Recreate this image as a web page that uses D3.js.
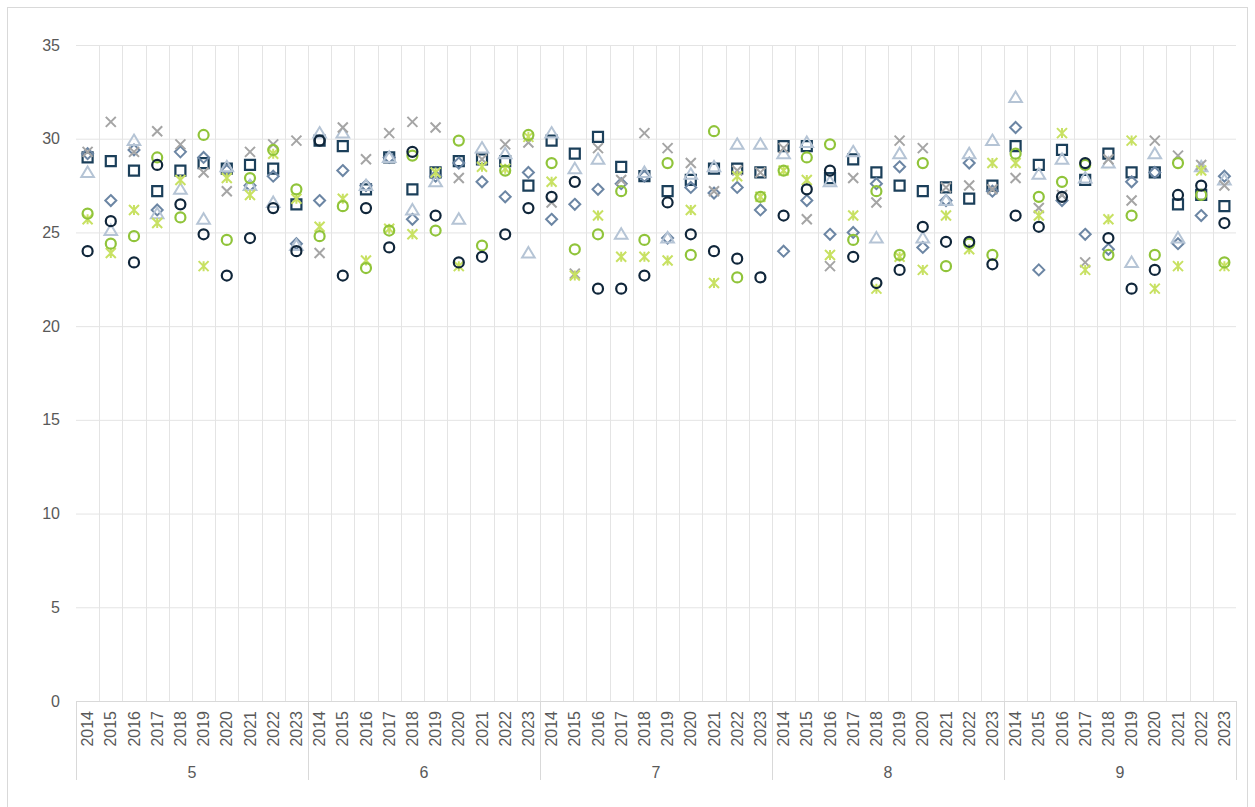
<!DOCTYPE html>
<html>
<head>
<meta charset="utf-8">
<script src="https://cdn.jsdelivr.net/npm/d3@7"></script>
<style>
  body { margin: 0; background: #fff; }
  text { font-family: "Liberation Sans", Arial, sans-serif; fill: #595959; }
</style>
</head>
<body>
<svg id="chart"></svg>
<script>
var w = 1255;
var h = 807;

// categories
var groups = ["5", "6", "7", "8", "9"];
var years = ["2014", "2015", "2016", "2017", "2018", "2019", "2020", "2021", "2022", "2023"];
var yTicks = [0, 5, 10, 15, 20, 25, 30, 35];

// series values, 50 each (group 5..9 x 2014..2023)
var darkCircle = [24.0, 25.6, 23.4, 28.6, 26.5, 24.9, 22.7, 24.7, 26.3, 24.0,
                  29.9, 22.7, 26.3, 24.2, 29.3, 25.9, 23.4, 23.7, 24.9, 26.3,
                  26.9, 27.7, 22.0, 22.0, 22.7, 26.6, 24.9, 24.0, 23.6, 22.6,
                  25.9, 27.3, 28.3, 23.7, 22.3, 23.0, 25.3, 24.5, 24.5, 23.3,
                  25.9, 25.3, 26.9, 28.7, 24.7, 22.0, 23.0, 27.0, 27.5, 25.5];
var square     = [29.0, 28.8, 28.3, 27.2, 28.3, 28.7, 28.4, 28.6, 28.4, 26.5,
                  29.9, 29.6, 27.3, 29.0, 27.3, 28.2, 28.8, 28.9, 28.8, 27.5,
                  29.9, 29.2, 30.1, 28.5, 28.0, 27.2, 27.8, 28.4, 28.4, 28.2,
                  29.6, 29.6, 27.9, 28.9, 28.2, 27.5, 27.2, 27.4, 26.8, 27.5,
                  29.6, 28.6, 29.4, 27.8, 29.2, 28.2, 28.2, 26.5, 27.0, 26.4];
var diamond    = [29.2, 26.7, 29.4, 26.2, 29.3, 29.0, 28.3, 27.5, 28.0, 24.4,
                  26.7, 28.3, 27.5, 29.0, 25.7, 28.0, 28.7, 27.7, 26.9, 28.2,
                  25.7, 26.5, 27.3, 27.6, 28.0, 24.7, 27.4, 27.1, 27.4, 26.2,
                  24.0, 26.7, 24.9, 25.0, 27.6, 28.5, 24.2, 26.7, 28.7, 27.2,
                  30.6, 23.0, 26.7, 24.9, 24.1, 27.7, 28.2, 24.4, 25.9, 28.0];
var triangle   = [28.2, 25.1, 29.9, 26.0, 27.3, 25.7, 28.5, 27.5, 26.6, 24.3,
                  30.3, 30.3, 27.5, 29.0, 26.2, 27.7, 25.7, 29.5, 29.2, 23.9,
                  30.3, 28.4, 28.9, 24.9, 28.2, 24.7, 28.1, 28.5, 29.7, 29.7,
                  29.2, 29.8, 27.7, 29.3, 24.7, 29.2, 24.7, 26.7, 29.2, 29.9,
                  32.2, 28.1, 28.9, 27.9, 28.7, 23.4, 29.2, 24.7, 28.5, 27.8];
var cross      = [29.3, 30.9, 29.3, 30.4, 29.7, 28.2, 27.2, 29.3, 29.7, 29.9,
                  23.9, 30.6, 28.9, 30.3, 30.9, 30.6, 27.9, 28.9, 29.7, 29.8,
                  26.6, 22.8, 29.5, 27.8, 30.3, 29.5, 28.7, 27.2, 28.3, 28.2,
                  29.5, 25.7, 23.2, 27.9, 26.6, 29.9, 29.5, 27.4, 27.5, 27.3,
                  27.9, 26.3, 27.0, 23.4, 28.9, 26.7, 29.9, 29.1, 28.6, 27.5];
var greenCircle = [26.0, 24.4, 24.8, 29.0, 25.8, 30.2, 24.6, 27.9, 29.4, 27.3,
                   24.8, 26.4, 23.1, 25.1, 29.1, 25.1, 29.9, 24.3, 28.3, 30.2,
                   28.7, 24.1, 24.9, 27.2, 24.6, 28.7, 23.8, 30.4, 22.6, 26.9,
                   28.3, 29.0, 29.7, 24.6, 27.2, 23.8, 28.7, 23.2, 24.4, 23.8,
                   29.2, 26.9, 27.7, 28.6, 23.8, 25.9, 23.8, 28.7, 27.0, 23.4];
var asterisk   = [25.7, 23.9, 26.2, 25.5, 27.8, 23.2, 27.9, 27.0, 29.2, 26.8,
                  25.3, 26.8, 23.5, 25.2, 24.9, 28.2, 23.2, 28.5, 28.4, 30.1,
                  27.7, 22.7, 25.9, 23.7, 23.7, 23.5, 26.2, 22.3, 28.0, 26.9,
                  28.3, 27.8, 23.8, 25.9, 22.0, 23.7, 23.0, 25.9, 24.1, 28.7,
                  28.7, 25.9, 30.3, 23.0, 25.7, 29.9, 22.0, 23.2, 28.3, 23.2];

var margin = {left: 76, right: 19, top: 45, bottom: 106};
var x0 = margin.left, x1 = w - margin.right;
var yTop = margin.top, yBot = h - margin.bottom;

var cats = [];
groups.forEach(function(g) {
    years.forEach(function(y) { cats.push(g + "|" + y); });
});

var x = d3.scaleBand().domain(cats).range([x0, x1]).padding(0);
var xg = d3.scaleBand().domain(groups).range([x0, x1]).padding(0);
var y = d3.scaleLinear().domain([0, 35]).range([yBot, yTop]);

var svg = d3.select("#chart").attr("width", w).attr("height", h);

// chart border
svg.append("rect")
    .attr("x", 7.5).attr("y", 7.5)
    .attr("width", w - 15).attr("height", h + 10)
    .attr("fill", "none").attr("stroke", "#d9d9d9");

var grid = "#e4e4e4";

// horizontal gridlines + y labels
svg.append("g")
    .attr("transform", "translate(" + x0 + ",0)")
    .call(d3.axisLeft(y).tickValues(yTicks).tickSize(-(x1 - x0)).tickPadding(16))
    .call(function(g) {
        g.select(".domain").remove();
        g.selectAll(".tick line").attr("stroke", grid);
        g.selectAll(".tick text").attr("font-size", 16).attr("fill", "#595959")
            .style("font-family", "'Liberation Sans', Arial, sans-serif");
    });

// vertical gridlines at category borders
svg.append("g").selectAll("line")
    .data(cats.slice(1))
    .join("line")
    .attr("x1", function(d) { return Math.round(x(d)) + 0.5; })
    .attr("x2", function(d) { return Math.round(x(d)) + 0.5; })
    .attr("y1", yTop).attr("y2", yBot)
    .attr("stroke", grid);

// x axis line
svg.append("line")
    .attr("x1", x0).attr("x2", x1)
    .attr("y1", yBot + 0.5).attr("y2", yBot + 0.5)
    .attr("stroke", "#d9d9d9");

// group separators below axis
svg.append("g").selectAll("line")
    .data(groups.concat(["end"]))
    .join("line")
    .attr("x1", function(d) { return Math.round(d == "end" ? x1 : xg(d)) + 0.5; })
    .attr("x2", function(d) { return Math.round(d == "end" ? x1 : xg(d)) + 0.5; })
    .attr("y1", yBot).attr("y2", yBot + 79)
    .attr("stroke", "#d9d9d9");

// year labels
svg.append("g").selectAll("text")
    .data(cats)
    .join("text")
    .attr("transform", function(d) {
        return "translate(" + (x(d) + x.bandwidth() / 2) + "," + (yBot + 10) + ")rotate(-90)";
    })
    .attr("text-anchor", "end")
    .attr("dy", "0.35em")
    .attr("font-size", 16)
    .text(function(d) { return d.split("|")[1]; });

// group labels
svg.append("g").selectAll("text")
    .data(groups)
    .join("text")
    .attr("x", function(d) { return xg(d) + xg.bandwidth() / 2; })
    .attr("y", yBot + 77)
    .attr("text-anchor", "middle")
    .attr("font-size", 16)
    .text(function(d) { return d; });

// marker shapes
var shapes = {
    circle: function(s) { return d3.path().toString() || "M" + s + ",0A" + s + "," + s + " 0 1,1 " + (-s) + ",0A" + s + "," + s + " 0 1,1 " + s + ",0Z"; },
    square: function(s) { return "M" + (-s) + "," + (-s) + "H" + s + "V" + s + "H" + (-s) + "Z"; },
    diamond: function(s) { return "M0," + (-s) + "L" + s + ",0L0," + s + "L" + (-s) + ",0Z"; },
    triangle: function(s) { return "M0," + (-s) + "L" + (s * 1.05) + "," + (s * 0.75) + "L" + (-s * 1.05) + "," + (s * 0.75) + "Z"; },
    cross: function(s) { return "M" + (-s) + "," + (-s) + "L" + s + "," + s + "M" + s + "," + (-s) + "L" + (-s) + "," + s; },
    star: function(s) { return "M" + (-s) + "," + (-s) + "L" + s + "," + s + "M" + s + "," + (-s) + "L" + (-s) + "," + s + "M0," + (-s) + "V" + s; }
};

var series = [
    {name: "square",  values: square,      shape: "square",   size: 5,   color: "#1b3f5a", width: 2.2},
    {name: "diamond", values: diamond,     shape: "diamond",  size: 5.5, color: "#6c86a4", width: 2},
    {name: "tri",     values: triangle,    shape: "triangle", size: 6,   color: "#b5c4d5", width: 2},
    {name: "cross",   values: cross,       shape: "cross",    size: 5,   color: "#a5a5a5", width: 2},
    {name: "star",    values: asterisk,    shape: "star",     size: 5,   color: "#c8e163", width: 2},
    {name: "green",   values: greenCircle, shape: "circle",   size: 5,   color: "#90c43a", width: 2.2},
    {name: "dark",    values: darkCircle,  shape: "circle",   size: 5,   color: "#10263a", width: 2.2}
];

series.forEach(function(s) {
    var gsel = svg.append("g").attr("class", s.name);
    if (s.shape == "circle") {
        gsel.selectAll("circle")
            .data(s.values)
            .join("circle")
            .attr("cx", function(d, i) { return x(cats[i]) + x.bandwidth() / 2; })
            .attr("cy", function(d) { return y(d); })
            .attr("r", s.size)
            .attr("fill", "none")
            .attr("stroke", s.color)
            .attr("stroke-width", s.width);
    } else {
        gsel.selectAll("path")
            .data(s.values)
            .join("path")
            .attr("d", shapes[s.shape](s.size))
            .attr("transform", function(d, i) {
                return "translate(" + [x(cats[i]) + x.bandwidth() / 2, y(d)] + ")";
            })
            .attr("fill", "none")
            .attr("stroke", s.color)
            .attr("stroke-width", s.width);
    }
});
</script>
</body>
</html>
